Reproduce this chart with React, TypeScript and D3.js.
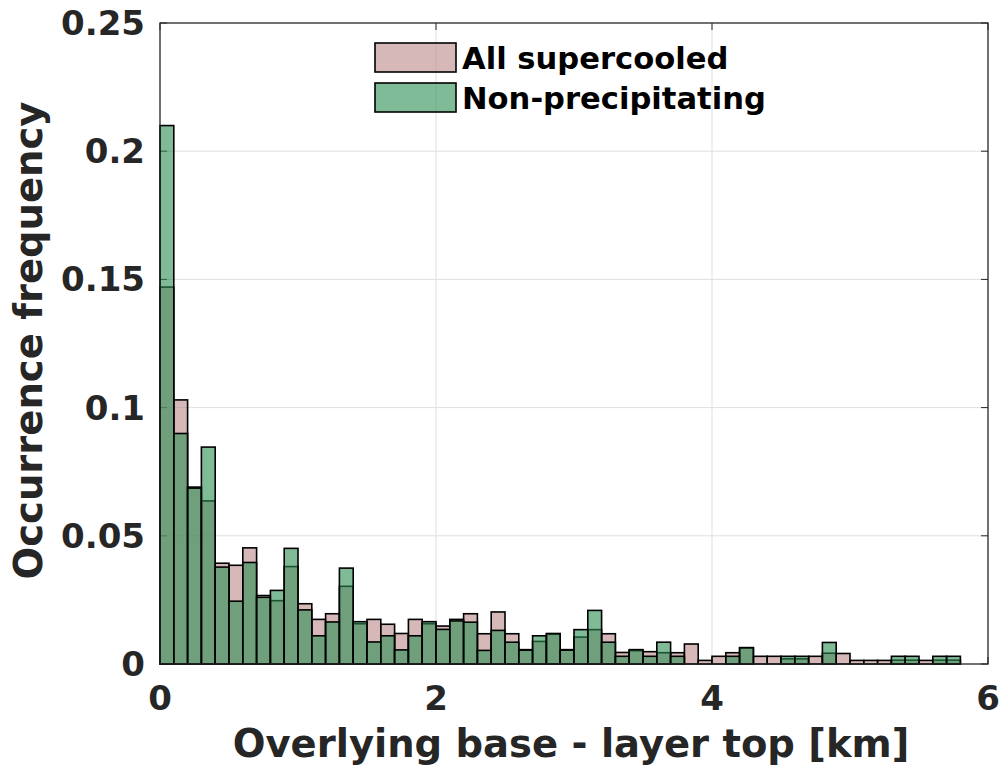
import React from "react";
import * as d3 from "d3";

// Histogram bins: 0.1 km wide, starting at 0 km
const binWidth = 0.1;
const allSupercooled = [
  0.147, 0.103, 0.069, 0.0636, 0.0393, 0.0385, 0.0453, 0.0267, 0.0247, 0.038,
  0.0235, 0.0174, 0.0196, 0.0303, 0.0157, 0.0174, 0.0155, 0.0119, 0.0174, 0.0157,
  0.0148, 0.0174, 0.0196, 0.0118, 0.0203, 0.0118, 0.0056, 0.0088, 0.0116, 0.0056,
  0.0105, 0.0134, 0.0118, 0.0045, 0.0052, 0.0048, 0.0044, 0.0044, 0.0078, 0.0014,
  0.003, 0.0044, 0.0062, 0.003, 0.003, 0.002, 0.002, 0.003, 0.0042, 0.0041,
  0.0014, 0.0014, 0.0014, 0.0015, 0.0015, 0.0014, 0.0015, 0.0015,
];
const nonPrecipitating = [
  0.21, 0.0899, 0.0686, 0.0846, 0.0378, 0.0245, 0.0396, 0.026, 0.0287, 0.0451,
  0.0211, 0.011, 0.0164, 0.0374, 0.0165, 0.0086, 0.011, 0.0055, 0.011, 0.0165,
  0.0135, 0.0168, 0.0163, 0.0053, 0.0131, 0.0085, 0.0054, 0.011, 0.0119, 0.0054,
  0.0134, 0.0209, 0.0085, 0.003, 0.0056, 0.003, 0.0085, 0.003, 0, 0,
  0, 0.003, 0.0064, 0, 0, 0.003, 0.003, 0, 0.0084, 0,
  0, 0, 0, 0.003, 0.003, 0, 0.003, 0.003,
];
const xTicks = [0, 2, 4, 6];
const yTicks = [0, 0.05, 0.1, 0.15, 0.2, 0.25];
const yTickLabels = ["0", "0.05", "0.1", "0.15", "0.2", "0.25"];
const seriesNames = ["All supercooled", "Non-precipitating"];

const W = 1000;
const H = 765;
const L = 160, R = 988, T = 23, B = 664;
const axisColor = "#262626";
const font = "'DejaVu Sans', sans-serif";
const pinkFill = "rgb(187,137,137)";
const greenFill = "rgb(43,142,82)";
const faceAlpha = 0.6;

export default function App() {
  const x = d3.scaleLinear().domain([0, 6]).range([L, R]);
  const y = d3.scaleLinear().domain([0, 0.25]).range([B, T]);
  const tickLen = 7;

  const bars = (vals: number[], fill: string, key: string) =>
    vals.map((v, i) => {
      if (v <= 0) return null;
      const x0 = x(i * binWidth);
      const x1 = x((i + 1) * binWidth);
      return (
        <rect
          key={key + i}
          x={x0}
          y={y(v)}
          width={x1 - x0}
          height={y(0) - y(v)}
          fill={fill}
          fillOpacity={faceAlpha}
          stroke="#000"
          strokeWidth={1.6}
        />
      );
    });

  return (
    <div style={{ position: "absolute", left: 0, top: 0 }}>
      <svg width={W} height={H} style={{ display: "block", background: "#fff" }}>
        <rect x={0} y={0} width={W} height={H} fill="#fff" />
        {/* grid */}
        {xTicks.filter((t) => t > 0 && t < 6).map((t) => (
          <line key={"gx" + t} x1={x(t)} x2={x(t)} y1={T} y2={B} stroke="#dfdfdf" strokeWidth={1} />
        ))}
        {yTicks.filter((t) => t > 0 && t < 0.25).map((t) => (
          <line key={"gy" + t} x1={L} x2={R} y1={y(t)} y2={y(t)} stroke="#dfdfdf" strokeWidth={1} />
        ))}
        {/* ticks */}
        {xTicks.map((t) => (
          <g key={"tx" + t}>
            <line x1={x(t)} x2={x(t)} y1={B} y2={B - tickLen} stroke={axisColor} strokeWidth={1} />
            <line x1={x(t)} x2={x(t)} y1={T} y2={T + tickLen} stroke={axisColor} strokeWidth={1} />
          </g>
        ))}
        {yTicks.map((t) => (
          <g key={"ty" + t}>
            <line x1={L} x2={L + tickLen} y1={y(t)} y2={y(t)} stroke={axisColor} strokeWidth={1} />
            <line x1={R} x2={R - tickLen} y1={y(t)} y2={y(t)} stroke={axisColor} strokeWidth={1} />
          </g>
        ))}
        {/* bars */}
        {bars(allSupercooled, pinkFill, "p")}
        {bars(nonPrecipitating, greenFill, "g")}
        {/* box */}
        <rect x={L} y={T} width={R - L} height={B - T} fill="none" stroke={axisColor} strokeWidth={1.3} />
        {/* tick labels */}
        {xTicks.map((t) => (
          <text key={"lx" + t} x={x(t)} y={710} textAnchor="middle" fontFamily={font} fontWeight="bold" fontSize={34} fill={axisColor}>
            {String(t)}
          </text>
        ))}
        {yTicks.map((t, i) => (
          <text key={"ly" + t} x={145} y={y(t) + 12} textAnchor="end" fontFamily={font} fontWeight="bold" fontSize={34} fill={axisColor}>
            {yTickLabels[i]}
          </text>
        ))}
        {/* axis labels */}
        <text x={(L + R) / 2 - 3} y={757} textAnchor="middle" fontFamily={font} fontWeight="bold" fontSize={38.5} fill={axisColor}>
          Overlying base - layer top [km]
        </text>
        <text
          transform={`translate(42,${(T + B) / 2 - 3}) rotate(-90)`}
          textAnchor="middle"
          fontFamily={font}
          fontWeight="bold"
          fontSize={38.5}
          fill={axisColor}
        >
          Occurrence frequency
        </text>
        {/* legend */}
        {seriesNames.map((name, i) => (
          <g key={"lg" + i} transform={`translate(0,${i * 40})`}>
            <rect x={375} y={43} width={81} height={29} fill={i === 0 ? pinkFill : greenFill} fillOpacity={faceAlpha} stroke="#000" strokeWidth={1.6} />
            <text x={462} y={69} fontFamily={font} fontWeight="bold" fontSize={30.6} fill="#000">
              {name}
            </text>
          </g>
        ))}
      </svg>
    </div>
  );
}
